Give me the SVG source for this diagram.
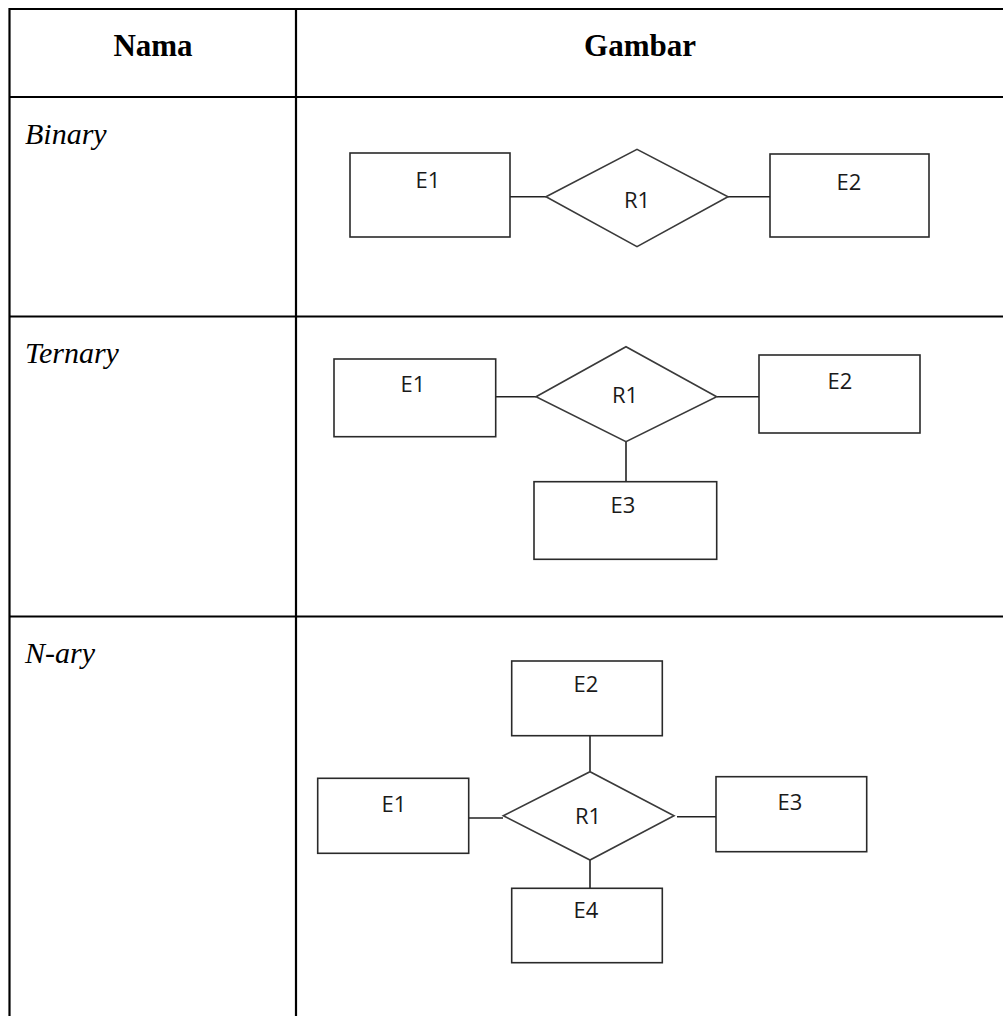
<svg xmlns="http://www.w3.org/2000/svg" width="1003" height="1016" viewBox="0 0 1003 1016">
<style>
.grid{stroke:#000;stroke-width:2.2;fill:none}
.hdr{font-family:"Liberation Serif","Times New Roman",serif;font-weight:bold;font-size:31px;fill:#000}
.name{font-family:"Liberation Serif","Times New Roman",serif;font-style:italic;font-size:30px;fill:#000}
.ent{fill:#fff;stroke:#2a2a2a;stroke-width:1.6}
.rel{fill:#fff;stroke:#3a3a3a;stroke-width:1.6}
.lbl{font-family:"Open Sans","Noto Sans",sans-serif;font-size:22px;fill:#1a1a1a;text-anchor:middle}
.conn line{stroke:#222;stroke-width:1.6}
</style>
<rect width="1003" height="1016" fill="#fff"/>
<g id="table">
<line class="grid" x1="9.5" y1="9" x2="1003" y2="9"/>
<line class="grid" x1="9.5" y1="97" x2="1003" y2="97"/>
<line class="grid" x1="9.5" y1="316.5" x2="1003" y2="316.5"/>
<line class="grid" x1="9.5" y1="616.5" x2="1003" y2="616.5"/>
<line class="grid" x1="9.5" y1="8" x2="9.5" y2="1016"/>
<line class="grid" x1="296" y1="8" x2="296" y2="1016"/>
<text class="hdr" x="153" y="56" text-anchor="middle">Nama</text>
<text class="hdr" x="640" y="56" text-anchor="middle">Gambar</text>
<text class="name" x="25" y="144">Binary</text>
<text class="name" x="25" y="363">Ternary</text>
<text class="name" x="25" y="663">N-ary</text>
</g>
<g id="connectors" class="conn">
<line x1="510" y1="196.7" x2="546" y2="196.7"/>
<line x1="728" y1="196.7" x2="770" y2="196.7"/>
<line x1="496" y1="396.7" x2="536" y2="396.7"/>
<line x1="717" y1="396.7" x2="759" y2="396.7"/>
<line x1="626" y1="441.7" x2="626" y2="481.7"/>
<line x1="590" y1="735.7" x2="590" y2="771.7"/>
<line x1="469" y1="818" x2="503" y2="818"/>
<line x1="677" y1="816.7" x2="716" y2="816.7"/>
<line x1="590" y1="860" x2="590" y2="888.3"/>
</g>
<g id="binary-E1"><rect class="ent" x="350" y="153" width="160" height="84"/><text class="lbl" x="428" y="188">E1</text></g>
<g id="binary-R1"><polygon class="rel" points="546,196.7 637,149.3 728,196.7 637,246.7"/><text class="lbl" x="637" y="208">R1</text></g>
<g id="binary-E2"><rect class="ent" x="770" y="154" width="159" height="83"/><text class="lbl" x="849" y="190">E2</text></g>
<g id="ternary-E1"><rect class="ent" x="334" y="359" width="161.7" height="77.7"/><text class="lbl" x="413" y="392">E1</text></g>
<g id="ternary-R1"><polygon class="rel" points="536,396.7 626,346.7 716.7,396.7 626,441.7"/><text class="lbl" x="625" y="403">R1</text></g>
<g id="ternary-E2"><rect class="ent" x="759" y="355" width="161" height="78"/><text class="lbl" x="840" y="389">E2</text></g>
<g id="ternary-E3"><rect class="ent" x="534" y="481.7" width="182.7" height="77.6"/><text class="lbl" x="623" y="513">E3</text></g>
<g id="nary-E2"><rect class="ent" x="511.7" y="661" width="150.6" height="74.7"/><text class="lbl" x="586" y="692">E2</text></g>
<g id="nary-R1"><polygon class="rel" points="503.3,815.7 590,771.7 674,815.7 590,860"/><text class="lbl" x="588" y="824">R1</text></g>
<g id="nary-E1"><rect class="ent" x="317.7" y="778.3" width="151" height="75"/><text class="lbl" x="394" y="811.7">E1</text></g>
<g id="nary-E3"><rect class="ent" x="716" y="776.7" width="150.7" height="75"/><text class="lbl" x="790" y="810">E3</text></g>
<g id="nary-E4"><rect class="ent" x="511.7" y="888.3" width="150.6" height="74.4"/><text class="lbl" x="586" y="918">E4</text></g>
</svg>
